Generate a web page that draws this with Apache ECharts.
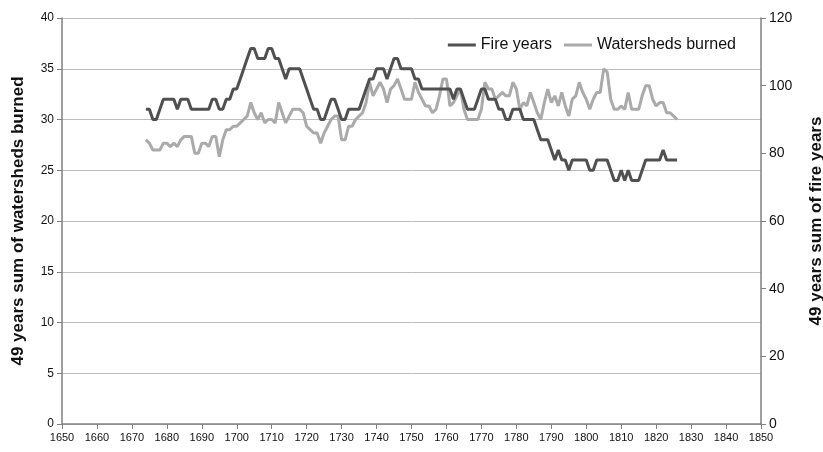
<!DOCTYPE html>
<html style="height:100%;">
<head>
    <meta charset="utf-8">
    <script src="https://cdn.jsdelivr.net/npm/echarts@6/dist/echarts.min.js"></script>
</head>
<body style="height:100%;margin:0;">
    <div id="main" style="width:823px;height:452px;"></div>
<script>
    // first year of both series
    var startYear = 1674;
    // 49 years sum of fire years (left axis)
    var fireYears = [
        31,31,30,30,31,32,32,32,32,31, 32,32,32,31,31,31,31,31,31,32,
        32,31,31,32,32,33,33,34,35,36, 37,37,36,36,36,37,37,36,36,35,
        34,35,35,35,35,34,33,32,31,31, 30,30,31,32,32,31,30,30,31,31,
        31,31,32,33,34,34,35,35,35,34, 35,36,36,35,35,35,35,34,34,33,
        33,33,33,33,33,33,33,33,32,33, 33,32,31,31,31,32,33,33,32,32,
        32,31,31,30,30,31,31,31,30,30, 30,30,29,28,28,28,27,26,27,26,
        26,25,26,26,26,26,26,25,25,26, 26,26,26,25,24,24,25,24,25,24,
        24,24,25,26,26,26,26,26,27,26, 26,26,26
    ];
    // 49 years sum of watersheds burned (right axis)
    var watersheds = [
        84,83,81,81,81,83,83,82,83,82, 84,85,85,85,80,80,83,83,82,85,
        85,79,84,87,87,88,88,89,90,91, 95,92,90,92,89,90,90,89,95,92,
        89,91,93,93,93,92,88,87,86,86, 83,86,88,90,91,91,84,84,88,88,
        90,91,92,95,101,97,99,101,99,95, 99,100,102,99,96,96,96,101,98,96,
        94,94,92,93,97,102,102,94,95,97, 99,93,90,90,90,90,93,101,99,99,
        96,97,98,97,97,101,99,93,95,94, 98,95,92,90,95,99,95,97,94,98,
        94,91,96,97,101,98,96,93,96,98, 98,105,104,96,93,93,94,93,98,93,
        93,93,97,100,100,96,94,95,95,92, 92,91,90
    ];

    function pairs(arr) {
        var out = [];
        for (var i = 0; i < arr.length; i++) {
            out.push([startYear + i, arr[i]]);
        }
        return out;
    }

    var font = 'Liberation Sans, Arial, sans-serif';
    var axisGray = '#808080';

    var chart = echarts.init(document.getElementById('main'));
    chart.setOption({
        backgroundColor: '#FFFFFF',
        animation: false,
        grid: { left: 62, right: 62, top: 18, bottom: 28, outerBoundsMode: 'none', containLabel: false },
        legend: {
            top: 32,
            right: 82,
            itemGap: 12,
            icon: 'rect',
            itemWidth: 28,
            itemHeight: 3,
            textStyle: { fontFamily: font, fontSize: 16, color: '#111' },
            data: ['Fire years', 'Watersheds burned']
        },
        xAxis: {
            type: 'value',
            min: 1650,
            max: 1850,
            interval: 10,
            splitLine: { show: false },
            axisLine: { lineStyle: { color: axisGray, width: 1.5 } },
            axisTick: { length: 5, lineStyle: { color: axisGray } },
            axisLabel: {
                color: '#111', fontFamily: font, fontSize: 11, margin: 8,
                formatter: function (v) { return String(v); }
            }
        },
        yAxis: [{
            type: 'value',
            min: 0,
            max: 40,
            interval: 5,
            name: '49 years sum of watersheds burned',
            nameLocation: 'middle',
            nameRotate: 90,
            nameGap: 35,
            nameTextStyle: { fontFamily: font, fontSize: 17, fontWeight: 'bold', color: '#111' },
            axisLine: { show: true, lineStyle: { color: axisGray, width: 1.5 } },
            axisTick: { show: true, length: 5, lineStyle: { color: axisGray } },
            axisLabel: { color: '#111', fontFamily: font, fontSize: 12, margin: 8 },
            splitLine: { lineStyle: { color: '#bdbdbd', width: 1 } }
        }, {
            type: 'value',
            min: 0,
            max: 120,
            interval: 20,
            name: '49 years sum of fire years',
            nameLocation: 'middle',
            nameRotate: 90,
            nameGap: 47,
            nameTextStyle: { fontFamily: font, fontSize: 17, fontWeight: 'bold', color: '#111' },
            axisLine: { show: true, lineStyle: { color: axisGray, width: 1.5 } },
            axisTick: { show: true, length: 5, lineStyle: { color: axisGray } },
            axisLabel: { color: '#111', fontFamily: font, fontSize: 14, margin: 8 },
            splitLine: { show: false }
        }],
        series: [{
            name: 'Fire years',
            type: 'line',
            yAxisIndex: 0,
            symbol: 'none',
            color: '#505050',
            lineStyle: { width: 3, color: '#505050' },
            data: pairs(fireYears)
        }, {
            name: 'Watersheds burned',
            type: 'line',
            yAxisIndex: 1,
            symbol: 'none',
            color: '#aaaaaa',
            z: 1,
            lineStyle: { width: 3, color: '#aaaaaa' },
            data: pairs(watersheds)
        }]
    });
</script>
</body>
</html>
